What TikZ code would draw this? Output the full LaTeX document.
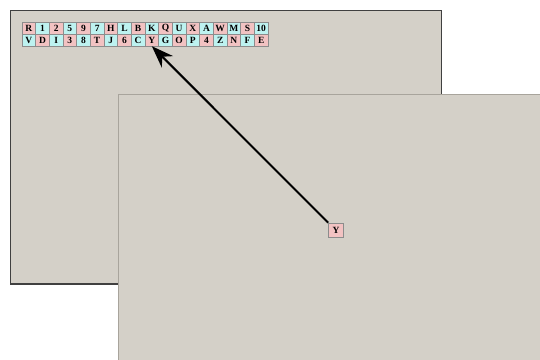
\documentclass[tikz,border=0pt]{standalone}
\usepackage{fontspec}
\setmainfont{Liberation Serif}
\usetikzlibrary{arrows.meta}
\definecolor{winbg}{HTML}{D4D0C8}
\definecolor{tpink}{HTML}{F2C2C2}
\definecolor{tcyan}{HTML}{BDF2F0}
\definecolor{frontedge}{HTML}{A8A49C}
\begin{document}
\begin{tikzpicture}[x=1pt,y=-1pt,
  tile/.style={draw=black!45, line width=0.6pt, minimum width=13.6pt, minimum height=11.8pt, inner sep=0pt,
    font=\bfseries\fontsize{9.5}{10}\selectfont},
  pinktile/.style={tile, fill=tpink},
  cyantile/.style={tile, fill=tcyan},
  linkarrow/.style={line width=2pt, -{Stealth[length=22pt,width=16pt]}}]
\useasboundingbox (0,0) rectangle (540,359);
\fill[white] (0,0) rectangle (540,359);
% back window
\draw[fill=winbg, draw=black!75, line width=1.3pt] (10.5,10.5) rectangle (441.5,284);
% tiles row 1
\foreach \t/\s [count=\i from 0] in {R/pinktile,1/cyantile,2/pinktile,5/cyantile,9/pinktile,7/cyantile,H/pinktile,L/cyantile,B/pinktile,K/cyantile,Q/pinktile,U/cyantile,X/pinktile,A/cyantile,W/pinktile,M/cyantile,S/pinktile,10/cyantile}
  \node[\s] (ra\i) at (22+6.8+\i*13.67, 28) {\t};
% tiles row 2
\foreach \t/\s [count=\i from 0] in {V/cyantile,D/pinktile,I/cyantile,3/pinktile,8/cyantile,T/pinktile,J/cyantile,6/pinktile,C/cyantile,Y/pinktile,G/cyantile,O/pinktile,P/cyantile,4/pinktile,Z/cyantile,N/pinktile,F/cyantile,E/pinktile}
  \node[\s] (rb\i) at (22+6.8+\i*13.67, 40) {\t};
% front window
\fill[winbg] (118,94) rectangle (541,360);
\draw[frontedge, line width=1pt] (118.5,360) -- (118.5,94.5) -- (541,94.5);
% dragged tile
\node[pinktile, minimum width=15pt, minimum height=14pt] (fy) at (336,230) {Y};
% arrow
\draw[linkarrow] (fy.north west) -- (rb9.south);
\end{tikzpicture}
\end{document}
